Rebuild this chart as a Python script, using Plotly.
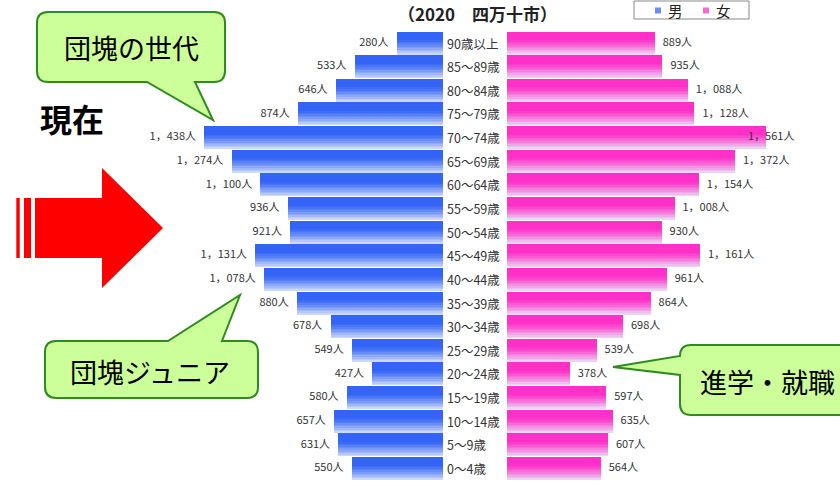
import plotly.graph_objects as go

W, H = 840, 486

ages = ["90歳以上", "85～89歳", "80～84歳", "75～79歳", "70～74歳", "65～69歳", "60～64歳",
        "55～59歳", "50～54歳", "45～49歳", "40～44歳", "35～39歳", "30～34歳", "25～29歳",
        "20～24歳", "15～19歳", "10～14歳", "5～9歳", "0～4歳"]
male = [280, 533, 646, 874, 1438, 1274, 1100, 936, 921, 1131, 1078, 880, 678, 549, 427, 580, 657, 631, 550]
female = [889, 935, 1088, 1128, 1561, 1372, 1154, 1008, 930, 1161, 961, 864, 698, 539, 378, 597, 635, 607, 564]
title_text = "（2020　四万十市）"
legend_names = ["男", "女"]

FONT = "Noto Sans CJK JP"
n = len(ages)
ypos = [n - 1 - i for i in range(n)]

def fmt(v):
    s = f"{v:,}".replace(",", "，")
    return s + "人"

def px(x, y):
    return x / W, 1 - y / H

def lerp(c1, c2, t):
    return "rgb(%d,%d,%d)" % tuple(round(a + (b - a) * t) for a, b in zip(c1, c2))

def shade(t):
    # t: 0 top .. 1 bottom
    if t < 0.3:
        return 0.0
    return ((t - 0.3) / 0.7) ** 1.3

male_top, male_bot = (52, 100, 246), (202, 216, 250)
fem_top, fem_bot = (255, 48, 200), (234, 212, 243)

scale = (443 - 204) / 1438.0  # px per person
male_max = 1500
fem_max = 1800
xd1 = [(443 - male_max * scale) / W, 443 / W]
xd2 = [507 / W, (507 + fem_max * scale) / W]
ytop, ybot = 31.2, 480.3
yd = [(H - ybot) / H, (H - ytop) / H]

fig = go.Figure()

N = 14
bw = 0.95
w = bw / N
for k in range(N):
    t = (N - 1 - k) / (N - 1)
    off = -bw / 2 + k * w
    fig.add_trace(go.Bar(x=male, y=ypos, orientation="h", width=w * 1.02, offset=off,
                         marker=dict(color=lerp(male_top, male_bot, shade(t)), line=dict(width=0)),
                         xaxis="x", yaxis="y", showlegend=False, hoverinfo="skip"))
    fig.add_trace(go.Bar(x=female, y=ypos, orientation="h", width=w * 1.02, offset=off,
                         marker=dict(color=lerp(fem_top, fem_bot, shade(t)), line=dict(width=0)),
                         xaxis="x2", yaxis="y", showlegend=False, hoverinfo="skip"))

pad = 8 / scale
fig.add_trace(go.Scatter(x=[v + pad for v in male], y=ypos, mode="text", text=[fmt(v) for v in male],
                         textposition="middle left", cliponaxis=False,
                         textfont=dict(family=FONT, size=11, color="#333333"),
                         xaxis="x", yaxis="y", showlegend=False, hoverinfo="skip"))
cap = 1450
fig.add_trace(go.Scatter(x=[min(v + pad, cap) for v in female], y=ypos, mode="text",
                         text=[fmt(v) for v in female],
                         textposition="middle right", cliponaxis=False,
                         textfont=dict(family=FONT, size=11, color="#333333"),
                         xaxis="x2", yaxis="y", showlegend=False, hoverinfo="skip"))

annotations = []
for a, y in zip(ages, ypos):
    annotations.append(dict(x=447 / W, y=y, xref="paper", yref="y", text=a, showarrow=False,
                            xanchor="left", yanchor="middle", xshift=-2,
                            font=dict(family=FONT, size=12.5, color="#333333")))

# Title
tx, ty = px(477, 14)
annotations.append(dict(x=tx, y=ty, xref="paper", yref="paper", text="<b>" + title_text + "</b>",
                        showarrow=False, xanchor="center", yanchor="middle",
                        font=dict(family=FONT, size=17, color="#222222")))

shapes = []

def rect(x0, y0, x1, y1, **kw):
    a0, b0 = px(x0, y0)
    a1, b1 = px(x1, y1)
    d = dict(type="rect", xref="paper", yref="paper", x0=a0, y0=b1, x1=a1, y1=b0)
    d.update(kw)
    return d

def path(points_cmds, **kw):
    parts = []
    for cmd, *pts in points_cmds:
        coords = []
        for (x, y) in pts:
            a, b = px(x, y)
            coords.append(f"{a:.5f},{b:.5f}")
        parts.append(cmd + " " + " ".join(coords))
    d = dict(type="path", xref="paper", yref="paper", path=" ".join(parts) + " Z")
    d.update(kw)
    return d

# Legend box
shapes.append(rect(634, 1, 749, 19, line=dict(color="#888888", width=1), fillcolor="white"))
shapes.append(rect(655, 7.5, 661, 13.5, line=dict(width=0), fillcolor=lerp(male_top, male_bot, 0.35)))
shapes.append(rect(703, 7.5, 709, 13.5, line=dict(width=0), fillcolor=lerp(fem_top, fem_bot, 0.35)))
for name, x in zip(legend_names, [675, 723]):
    lx, ly = px(x, 11)
    annotations.append(dict(x=lx, y=ly, xref="paper", yref="paper", text=name, showarrow=False,
                            xanchor="center", yanchor="middle",
                            font=dict(family=FONT, size=14.5, color="#222222")))

GREEN_FILL = "#ccff99"
GREEN_LINE = "#2e8b1e"

def callout(x0, y0, x1, y1, r, pointer):
    cmds = [("M", (x0 + r, y0))]
    if pointer[0] == "top":
        _, bl, br, tip = pointer
        cmds += [("L", (bl, y0)), ("L", tip), ("L", (br, y0))]
    cmds += [("L", (x1 - r, y0)), ("Q", (x1, y0), (x1, y0 + r)), ("L", (x1, y1 - r)),
             ("Q", (x1, y1), (x1 - r, y1))]
    if pointer[0] == "bottom":
        _, bl, br, tip = pointer
        cmds += [("L", (br, y1)), ("L", tip), ("L", (bl, y1))]
    cmds += [("L", (x0 + r, y1)), ("Q", (x0, y1), (x0, y1 - r))]
    if pointer[0] == "left":
        _, bt, bb, tip = pointer
        cmds += [("L", (x0, bb)), ("L", tip), ("L", (x0, bt))]
    cmds += [("L", (x0, y0 + r)), ("Q", (x0, y0), (x0 + r, y0))]
    return path(cmds, fillcolor=GREEN_FILL, line=dict(color=GREEN_LINE, width=2), layer="above")

shapes.append(callout(37, 12, 225, 82, 11, ("bottom", 147, 195, (213, 120))))
shapes.append(callout(45, 341, 258, 398, 11, ("top", 168, 222, (240, 295))))
shapes.append(callout(680, 345, 870, 415, 11, ("left", 356, 375, (613, 367))))

for txt, x, y in [("団塊の世代", 131, 47), ("団塊ジュニア", 150, 371)]:
    cx, cy = px(x, y)
    annotations.append(dict(x=cx, y=cy, xref="paper", yref="paper", text=txt, showarrow=False,
                            xanchor="center", yanchor="middle",
                            font=dict(family=FONT, size=27, color="black")))
cx, cy = px(698, 381)
annotations.append(dict(x=cx, y=cy, xref="paper", yref="paper", text="進学・就職", showarrow=False,
                        xanchor="left", yanchor="middle",
                        font=dict(family=FONT, size=27, color="black")))

cx, cy = px(72, 118)
annotations.append(dict(x=cx, y=cy, xref="paper", yref="paper", text="<b>現在</b>", showarrow=False,
                        xanchor="center", yanchor="middle",
                        font=dict(family=FONT, size=32, color="black")))

# Red arrow
RED = "#ff0000"
shapes.append(path([("M", (35, 198)), ("L", (102, 198)), ("L", (102, 168)), ("L", (163, 228)),
                    ("L", (102, 288)), ("L", (102, 258)), ("L", (35, 258))],
                   fillcolor=RED, line=dict(width=0)))
shapes.append(rect(16.3, 198, 19.7, 258, fillcolor=RED, line=dict(width=0)))
shapes.append(rect(24, 198, 31, 258, fillcolor=RED, line=dict(width=0)))

axis_off = dict(showgrid=False, zeroline=False, showticklabels=False, showline=False, ticks="")
fig.update_layout(
    width=W, height=H, margin=dict(l=0, r=0, t=0, b=0),
    paper_bgcolor="white", plot_bgcolor="white",
    barmode="overlay", bargap=0,
    xaxis=dict(domain=xd1, range=[male_max, 0], fixedrange=True, **axis_off),
    xaxis2=dict(domain=xd2, range=[0, fem_max], anchor="y", fixedrange=True, **axis_off),
    yaxis=dict(domain=yd, range=[-0.5, n - 0.5], fixedrange=True, **axis_off),
    shapes=shapes, annotations=annotations, showlegend=False,
)

fig.write_html("out.html", config={"displayModeBar": False},
               post_script="document.body.style.margin='0';document.body.style.overflow='hidden';")
